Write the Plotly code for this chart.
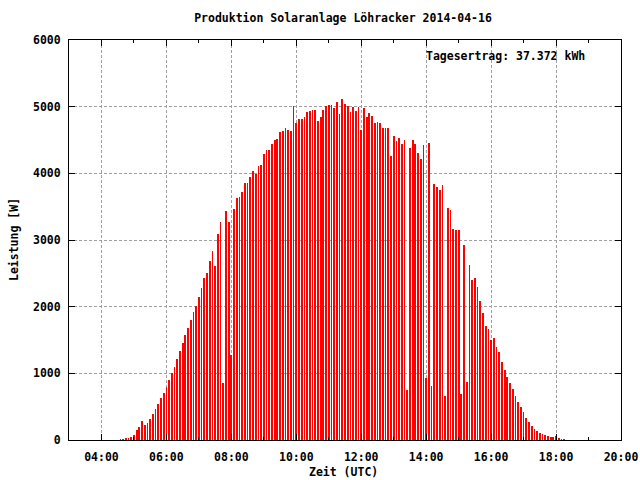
import plotly.graph_objects as go
import pandas as pd

# 5-minute samples starting 04:35 UTC
start_time = "2014-04-16 04:35"
interval = "5min"
power_w = [
    15, 15, 30, 30, 50, 75, 150, 195, 285, 225,
    255, 315, 390, 465, 540, 630, 705, 795, 900, 1000,
    1095, 1215, 1335, 1455, 1575, 1680, 1800, 1920, 2010, 2145,
    2280, 2430, 2505, 2685, 2835, 2610, 3090, 3270, 855, 3435,
    3270, 1275, 3465, 3630, 3645, 3720, 3855, 3855, 3945, 4035,
    3990, 4110, 4125, 4290, 4355, 4343, 4433, 4493, 4522, 4627,
    4642, 4687, 4657, 4642, 5010, 4761, 4821, 4821, 4851, 4925,
    4940, 4955, 4955, 4791, 4851, 4955, 5010, 5030, 5030, 4985,
    5075, 4896, 5119, 5045, 5015, 4925, 5000, 4940, 5000, 4657,
    4985, 4851, 4910, 4866, 4761, 4776, 4761, 4687, 4687, 4687,
    4254, 4567, 4478, 4537, 4433, 4493, 746, 4373, 4493, 4433,
    4299, 4209, 4418, 925, 4448, 806, 3836, 3791, 3746, 3821,
    657, 3478, 3448, 3164, 3149, 3149, 687, 2925, 866, 2627,
    2403, 2433, 2299, 2090, 1910, 1716, 1672, 1493, 1525, 1395,
    1320, 1170, 1050, 945, 855, 765, 660, 570, 495, 420,
    330, 270, 210, 165, 135, 105, 90, 75, 60, 45,
    45, 60, 30, 15, 15,
]
times = pd.date_range(start_time, periods=len(power_w), freq=interval)

title_text = "Produktion Solaranlage Löhracker 2014-04-16"
yield_text = "Tagesertrag: 37.372 kWh"
x_title = "Zeit (UTC)"
y_title = "Leistung [W]"

FONT = "DejaVu Sans Mono"
fnt = dict(family=FONT, size=11.5, color="black", weight="bold")

W, H = 640, 480
L, T, PW, PH = 69, 40, 552, 400

fig = go.Figure()
fig.add_trace(go.Bar(
    x=times, y=power_w,
    width=90000,
    marker=dict(color="#ff0000", line=dict(width=0)),
    showlegend=False,
))

grid = dict(showgrid=True, gridcolor="#a0a0a0", gridwidth=1, griddash="3px,2px")

fig.update_layout(
    template="none",
    width=W, height=H,
    margin=dict(l=L, r=W - L - PW, t=T, b=H - T - PH, pad=0),
    paper_bgcolor="white", plot_bgcolor="white",
    font=fnt,
    bargap=0,
    title=dict(text=title_text, x=343 / W, xanchor="center", y=1 - 18 / H,
               yanchor="middle", font=fnt),
    xaxis=dict(
        type="date", automargin=False,
        range=["2014-04-16 03:00", "2014-04-16 20:00"],
        tick0="2014-04-16 00:00", dtick=7200000, tickformat="%H:%M",
        ticks="inside", ticklen=6, tickcolor="black", tickwidth=1,
        showline=True, linecolor="black", linewidth=1, mirror="allticks",
        zeroline=False, ticklabelstandoff=6, ticklabeloverflow="allow",
        minor=dict(dtick=3600000, tick0="2014-04-16 00:00", ticks="inside",
                   ticklen=3, tickcolor="black", showgrid=False),
        tickfont=fnt,
        **grid,
    ),
    yaxis=dict(
        automargin=False,
        range=[0, 6000], dtick=1000,
        ticks="inside", ticklen=6, tickcolor="black", tickwidth=1,
        showline=True, linecolor="black", linewidth=1, mirror="allticks",
        zeroline=False, ticklabelstandoff=5,
        tickfont=fnt,
        **grid,
    ),
    annotations=[
        dict(text=yield_text, xref="paper", yref="paper",
             x=(587 - L) / PW, y=(440 - 56) / PH,
             xanchor="right", yanchor="middle", showarrow=False, font=fnt),
        dict(text=x_title, xref="paper", yref="paper",
             x=(343 - L) / PW, y=(440 - 472) / PH,
             xanchor="center", yanchor="middle", showarrow=False, font=fnt),
        dict(text=y_title, xref="paper", yref="paper",
             x=(14 - L) / PW, y=0.5, textangle=-90,
             xanchor="center", yanchor="middle", showarrow=False, font=fnt),
    ],
)

fig.write_html(
    "out.html",
    config={"displayModeBar": False},
    post_script="document.body.style.margin='0';document.body.style.overflow='hidden';",
)
